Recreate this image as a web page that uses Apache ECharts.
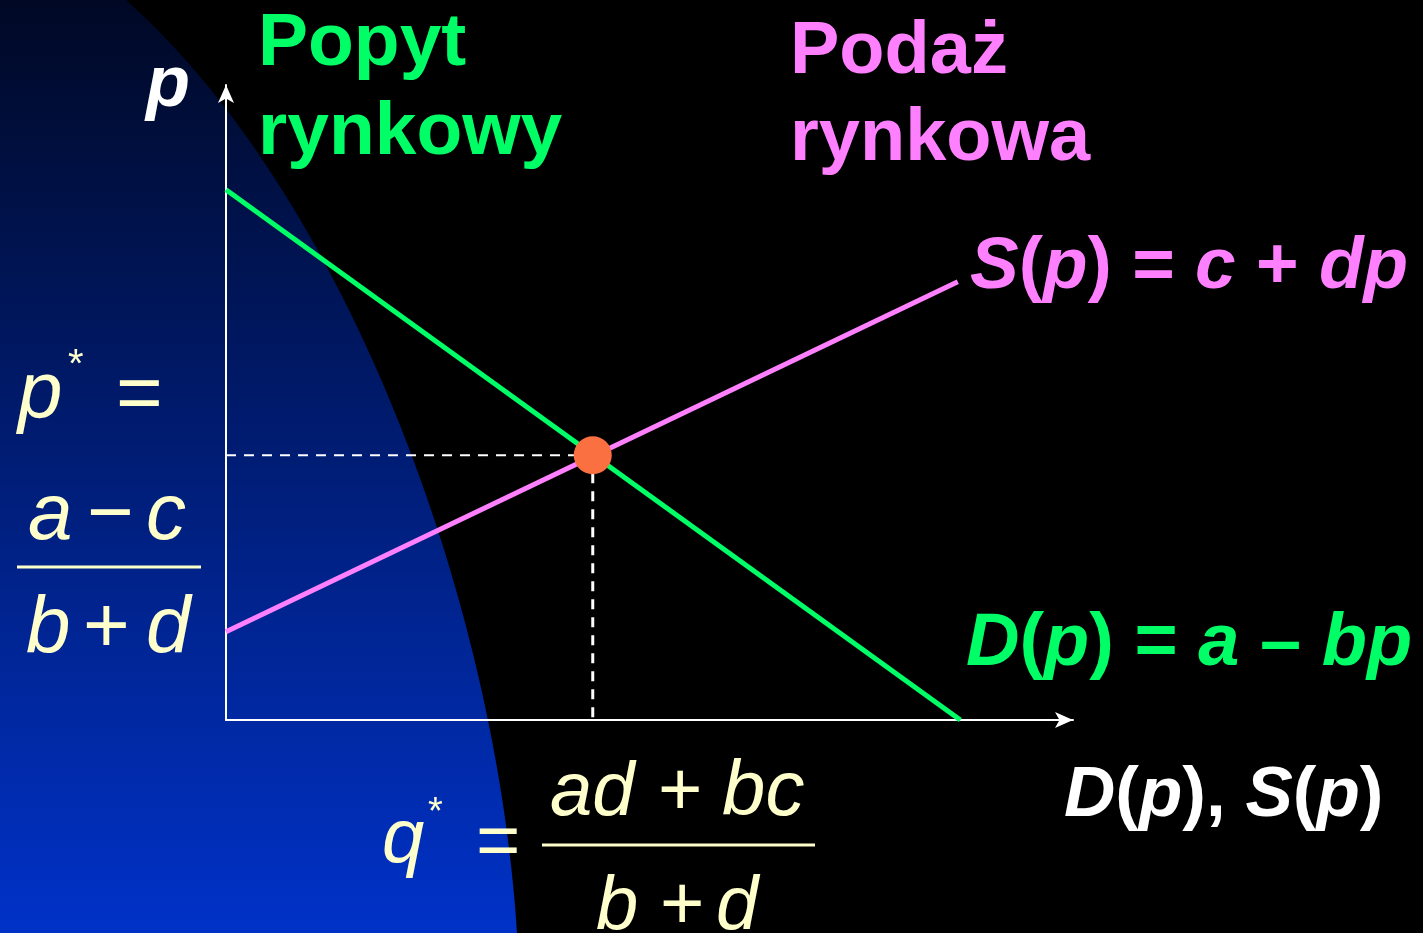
<!DOCTYPE html>
<html lang="pl">
<head>
<meta charset="UTF-8">
<title>Popyt i podaż rynkowa</title>
<script src="https://cdn.jsdelivr.net/npm/echarts@6.0.0/dist/echarts.min.js"></script>
<style>
    html, body {
        margin: 0;
        padding: 0;
        background: #000;
    }
    #chart {
        width: 1423px;
        height: 933px;
    }
</style>
</head>
<body>
<div id="chart"></div>
<script>
    // dane (os x: ilosc, os y: cena)
    var demandQ = [0, 86.7];
    var demandP = [83.5, 0];
    var supplyQ = [0, 86.4];
    var supplyP = [13.9, 69.0];
    var eqQ = [43.3];
    var eqP = [41.7];

    var green = '#00ff66';
    var pink = '#ff80ff';
    var cream = '#ffffcc';
    var FONT = '"Liberation Sans", Arial, sans-serif';

    function pairs(xs, ys) {
        var out = [];
        for (var i = 0; i < xs.length; i++) out.push([xs[i], ys[i]]);
        return out;
    }

    // tlo: niebieski luk po lewej (krzywa Beziera zamieniona na wielokat)
    function blueShape() {
        var p0 = [126, 0], p1 = [340, 190], p2 = [495, 590], p3 = [517, 933];
        var pts = [[0, 0]];
        for (var i = 0; i <= 60; i++) {
            var t = i / 60, u = 1 - t;
            pts.push([
                u * u * u * p0[0] + 3 * u * u * t * p1[0] + 3 * u * t * t * p2[0] + t * t * t * p3[0],
                u * u * u * p0[1] + 3 * u * u * t * p1[1] + 3 * u * t * t * p2[1] + t * t * t * p3[1]
            ]);
        }
        pts.push([0, 933]);
        return pts;
    }

    // tekst ustawiany wzgledem linii bazowej
    function txt(x, base, text, size, color, opts) {
        opts = opts || {};
        return {
            type: 'text',
            x: x,
            y: base - 0.25 * size,
            z: 100,
            style: {
                text: text,
                fill: color,
                fontFamily: FONT,
                fontSize: size,
                fontWeight: opts.bold ? 'bold' : 'normal',
                fontStyle: opts.italic ? 'italic' : 'normal',
                align: opts.align || 'left',
                verticalAlign: 'middle',
                rich: opts.rich
            }
        };
    }

    function richStyles(size, color, bold) {
        var w = bold ? 'bold' : 'normal';
        return {
            i: {fontFamily: FONT, fontSize: size, fontWeight: w, fontStyle: 'italic', color: color},
            n: {fontFamily: FONT, fontSize: size, fontWeight: w, fontStyle: 'normal', color: color}
        };
    }

    function bar(x1, x2, y) {
        return {
            type: 'line', z: 100,
            shape: {x1: x1, y1: y, x2: x2, y2: y},
            style: {stroke: cream, lineWidth: 3}
        };
    }

    var chart = echarts.init(document.getElementById('chart'));

    var graphics = [
        {
            type: 'polygon',
            z: -10,
            shape: {points: blueShape()},
            style: {
                fill: {
                    type: 'linear', x: 0, y: 0, x2: 0, y2: 1,
                    colorStops: [
                        {offset: 0, color: '#000824'},
                        {offset: 1, color: '#0032c8'}
                    ]
                }
            }
        },
        // podpisy
        txt(146, 104, 'p', 72, '#fff', {bold: true, italic: true}),
        txt(258, 63, 'Popyt', 75, green, {bold: true}),
        txt(258, 152, 'rynkowy', 75, green, {bold: true}),
        txt(790, 71, 'Podaż', 74, pink, {bold: true}),
        txt(790, 158, 'rynkowa', 74, pink, {bold: true}),
        txt(970, 286, '{i|S}{n|(}{i|p}{n|) = }{i|c}{n| + }{i|dp}', 73, pink,
            {rich: richStyles(73, pink, true)}),
        txt(966, 663, '{i|D}{n|(}{i|p}{n|) = }{i|a}{n| – }{i|bp}', 74, green,
            {rich: richStyles(74, green, true)}),
        txt(1064, 814, '{i|D}{n|(}{i|p}{n|), }{i|S}{n|(}{i|p}{n|)}', 71, '#fff',
            {rich: richStyles(71, '#fff', true)}),

        // p* = (a - c) / (b + d)
        txt(18, 415, 'p', 80, cream, {italic: true}),
        txt(68, 376, '*', 40, cream),
        txt(116, 417, '=', 80, cream),
        txt(28, 537, 'a', 80, cream, {italic: true}),
        txt(87, 537, '\u2212', 80, cream),
        txt(146, 537, 'c', 80, cream, {italic: true}),
        bar(17, 201, 567),
        txt(26, 650, 'b', 80, cream, {italic: true}),
        txt(83, 650, '+', 80, cream),
        txt(146, 650, 'd', 80, cream, {italic: true}),

        // q* = (ad + bc) / (b + d)
        txt(382, 860, 'q', 76, cream, {italic: true}),
        txt(428, 823, '*', 38, cream),
        txt(476, 864, '=', 76, cream),
        txt(550, 813, 'ad', 76, cream, {italic: true}),
        txt(658, 813, '+', 76, cream),
        txt(722, 813, 'bc', 78, cream, {italic: true}),
        bar(542, 815, 845),
        txt(596, 927, 'b', 76, cream, {italic: true}),
        txt(660, 927, '+', 76, cream),
        txt(716, 927, 'd', 76, cream, {italic: true})
    ];

    var axisCommon = {
        type: 'value',
        min: 0,
        max: 100,
        axisLine: {
            show: true,
            symbol: ['none', 'arrow'],
            symbolSize: [12, 18],
            lineStyle: {color: '#fff', width: 2}
        },
        axisTick: {show: false},
        axisLabel: {show: false},
        splitLine: {show: false}
    };

    var option = {
        backgroundColor: '#000',
        animation: false,
        grid: {left: 226, right: 350, top: 85, bottom: 213},
        xAxis: axisCommon,
        yAxis: axisCommon,
        graphic: graphics,
        series: [
            {
                name: 'pozioma',
                type: 'line',
                data: [[0, eqP[0]], [eqQ[0], eqP[0]]],
                symbol: 'none',
                lineStyle: {color: '#fff', width: 2, type: [10, 8]},
                z: 3
            },
            {
                name: 'pionowa',
                type: 'line',
                data: [[eqQ[0], eqP[0]], [eqQ[0], 0]],
                symbol: 'none',
                lineStyle: {color: '#fff', width: 3, type: [10, 8]},
                z: 3
            },
            {
                name: 'Popyt',
                type: 'line',
                data: pairs(demandQ, demandP),
                symbol: 'none',
                lineStyle: {color: green, width: 5},
                z: 4
            },
            {
                name: 'Podaż',
                type: 'line',
                data: pairs(supplyQ, supplyP),
                symbol: 'none',
                lineStyle: {color: pink, width: 5},
                z: 4
            },
            {
                name: 'Równowaga',
                type: 'scatter',
                data: pairs(eqQ, eqP),
                symbolSize: 38,
                itemStyle: {color: '#fa7040', opacity: 1},
                z: 5
            }
        ]
    };

    chart.setOption(option);
</script>
</body>
</html>
